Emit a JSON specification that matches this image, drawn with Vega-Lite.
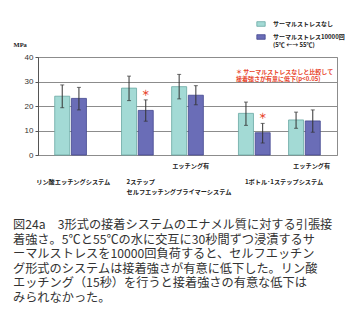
{
  "$schema": "https://vega.github.io/schema/vega-lite/v6.json",
  "width": 299,
  "height": 98,
  "autosize": {"type": "none"},
  "padding": {"left": 38, "top": 57, "right": 13, "bottom": 169},
  "background": "white",
  "config": {
    "view": {"stroke": "#8c8c8c", "strokeWidth": 1},
    "font": "Noto Sans CJK JP",
    "axisY": {
      "labelOverlap": false,
      "tickCount": 5,
      "titleAngle": 0,
      "titleAlign": "left",
      "titleBaseline": "middle",
      "titleX": -25,
      "titleY": -13,
      "titleFont": "Liberation Serif",
      "titleFontSize": 6.5,
      "titleFontWeight": "bold",
      "titleColor": "#222",
      "labelFont": "Liberation Sans",
      "labelFontSize": 8,
      "labelColor": "#333",
      "labelPadding": 2,
      "tickSize": 3,
      "tickColor": "#555",
      "domainColor": "#555",
      "gridColor": "#8c8c8c",
      "gridWidth": 1
    }
  },
  "title": {
    "text": [
      "図24a　3形式の接着システムのエナメル質に対する引張接",
      "　　着強さ。5℃と55℃の水に交互に30秒間ずつ浸漬するサ",
      "　　ーマルストレスを10000回負荷すると、セルフエッチン",
      "　　グ形式のシステムは接着強さが有意に低下した。リン酸",
      "　　エッチング（15秒）を行うと接着強さの有意な低下は",
      "　　みられなかった。"
    ],
    "orient": "bottom",
    "anchor": "start",
    "frame": "group",
    "offset": 24,
    "dx": -25,
    "font": "Noto Sans CJK JP",
    "fontSize": 12.2,
    "fontWeight": "normal",
    "color": "#333333",
    "lineHeight": 14.5,
    "baseline": "top"
  },
  "datasets": {
    "bars": [
      {"bar": "A0", "group": "リン酸エッチングシステム", "series": "サーマルストレスなし", "mean": 24.0, "lo": 19.3, "hi": 28.6, "sig": ""},
      {"bar": "A1", "group": "リン酸エッチングシステム", "series": "サーマルストレス10000回", "mean": 23.1, "lo": 18.4, "hi": 27.6, "sig": ""},
      {"bar": "B0", "group": "2ステップセルフエッチングプライマーシステム", "series": "サーマルストレスなし", "mean": 27.3, "lo": 22.2, "hi": 32.2, "sig": ""},
      {"bar": "B1", "group": "2ステップセルフエッチングプライマーシステム", "series": "サーマルストレス10000回", "mean": 18.2, "lo": 13.8, "hi": 22.5, "sig": "＊"},
      {"bar": "C0", "group": "2ステップセルフエッチングプライマーシステム エッチング有", "series": "サーマルストレスなし", "mean": 27.9, "lo": 22.9, "hi": 32.9, "sig": ""},
      {"bar": "C1", "group": "2ステップセルフエッチングプライマーシステム エッチング有", "series": "サーマルストレス10000回", "mean": 24.4, "lo": 20.5, "hi": 28.3, "sig": ""},
      {"bar": "D0", "group": "1ボトル･1ステップシステム", "series": "サーマルストレスなし", "mean": 17.0, "lo": 12.1, "hi": 21.6, "sig": ""},
      {"bar": "D1", "group": "1ボトル･1ステップシステム", "series": "サーマルストレス10000回", "mean": 9.1, "lo": 4.9, "hi": 12.9, "sig": "＊"},
      {"bar": "E0", "group": "1ボトル･1ステップシステム エッチング有", "series": "サーマルストレスなし", "mean": 14.3, "lo": 10.9, "hi": 17.5, "sig": ""},
      {"bar": "E1", "group": "1ボトル･1ステップシステム エッチング有", "series": "サーマルストレス10000回", "mean": 13.9, "lo": 9.3, "hi": 18.4, "sig": ""}
    ]
  },
  "data": {"name": "bars"},
  "encoding": {
    "x": {
      "field": "bar",
      "type": "nominal",
      "scale": {
        "domain": ["A0", "A1", "s1", "s2", "B0", "B1", "s3", "C0", "C1", "s4", "s5", "D0", "D1", "s6", "E0", "E1"],
        "paddingInner": 0.1,
        "paddingOuter": 1.08
      },
      "axis": null
    }
  },
  "layer": [
    {
      "mark": {"type": "bar", "strokeWidth": 0.8},
      "encoding": {
        "y": {
          "field": "mean",
          "type": "quantitative",
          "scale": {"domain": [0, 40], "nice": false},
          "axis": {"values": [0, 10, 20, 30, 40], "tickCount": 5, "title": "MPa"}
        },
        "color": {
          "field": "series",
          "type": "nominal",
          "scale": {
            "domain": ["サーマルストレスなし", "サーマルストレス10000回"],
            "range": ["#a3dad5", "#6a6db7"]
          },
          "legend": {
            "orient": "none",
            "legendX": 218,
            "legendY": -38,
            "title": null,
            "symbolType": "M-1,-0.55H1V0.55H-1Z",
            "symbolSize": 70,
            "symbolStrokeColor": "#4a4a4a",
            "symbolStrokeWidth": 0.8,
            "symbolOpacity": 1,
            "labelFont": "Noto Sans CJK JP",
            "labelFontSize": 6,
            "labelFontWeight": "bold",
            "labelColor": "#222",
            "labelOffset": 7,
            "rowPadding": 4,
            "labelExpr": "datum.label == 'サーマルストレス10000回' ? ['サーマルストレス10000回', '(5℃ ←→ 55℃)'] : datum.label"
          }
        },
        "stroke": {
          "field": "series",
          "type": "nominal",
          "scale": {
            "domain": ["サーマルストレスなし", "サーマルストレス10000回"],
            "range": ["#6aa8a3", "#44478f"]
          },
          "legend": null
        }
      }
    },
    {
      "mark": {"type": "rule", "color": "#333", "strokeWidth": 1},
      "encoding": {
        "y": {"field": "lo", "type": "quantitative", "axis": {"values": [0, 10, 20, 30, 40], "tickCount": 5, "title": "MPa"}},
        "y2": {"field": "hi"}
      }
    },
    {
      "mark": {"type": "tick", "orient": "horizontal", "size": 4, "thickness": 1, "color": "#333"},
      "encoding": {"y": {"field": "hi", "type": "quantitative", "axis": {"values": [0, 10, 20, 30, 40], "tickCount": 5, "title": "MPa"}}}
    },
    {
      "mark": {"type": "tick", "orient": "horizontal", "size": 4, "thickness": 1, "color": "#333"},
      "encoding": {"y": {"field": "lo", "type": "quantitative", "axis": {"values": [0, 10, 20, 30, 40], "tickCount": 5, "title": "MPa"}}}
    },
    {
      "mark": {"type": "text", "color": "#e8452c", "fontSize": 8, "fontWeight": "bold", "baseline": "middle", "dy": -6},
      "encoding": {
        "y": {"field": "hi", "type": "quantitative", "axis": {"values": [0, 10, 20, 30, 40], "tickCount": 5, "title": "MPa"}},
        "text": {"field": "sig"}
      }
    },
    {
      "data": {"values": [{"note": ["＊ サーマルストレスなしと比較して", "　接着強さが有意に低下(p<0.05)"]}]},
      "mark": {"type": "text", "color": "#e8452c", "fontSize": 6, "fontWeight": "bold", "align": "left", "baseline": "middle", "lineHeight": 7, "dx": -10},
      "encoding": {
        "x": {"datum": "D0"},
        "y": {"datum": 33.7, "axis": {"values": [0, 10, 20, 30, 40], "tickCount": 5, "title": "MPa"}},
        "text": {"field": "note"}
      }
    },
    {
      "data": {"values": [{"label": "リン酸エッチングシステム"}]},
      "mark": {"type": "text", "fontSize": 6.2, "fontWeight": "bold", "color": "#222", "align": "left", "baseline": "middle", "dx": -26, "dy": 27},
      "encoding": {"x": {"datum": "A0"}, "y": {"datum": 0, "axis": {"values": [0, 10, 20, 30, 40], "tickCount": 5, "title": "MPa"}}, "text": {"field": "label"}}
    },
    {
      "data": {"values": [{"label": ["2ステップ", "セルフエッチングプライマーシステム"]}]},
      "mark": {"type": "text", "fontSize": 6.2, "fontWeight": "bold", "color": "#222", "align": "left", "baseline": "top", "lineHeight": 10, "dx": -2.5, "dy": 24},
      "encoding": {"x": {"datum": "B0"}, "y": {"datum": 0, "axis": {"values": [0, 10, 20, 30, 40], "tickCount": 5, "title": "MPa"}}, "text": {"field": "label"}}
    },
    {
      "data": {"values": [{"label": "エッチング有"}]},
      "mark": {"type": "text", "fontSize": 6.2, "fontWeight": "bold", "color": "#222", "align": "left", "baseline": "middle", "dx": -7, "dy": 11},
      "encoding": {"x": {"datum": "C0"}, "y": {"datum": 0, "axis": {"values": [0, 10, 20, 30, 40], "tickCount": 5, "title": "MPa"}}, "text": {"field": "label"}}
    },
    {
      "data": {"values": [{"label": "1ボトル･1ステップシステム"}]},
      "mark": {"type": "text", "fontSize": 6.2, "fontWeight": "bold", "color": "#222", "align": "left", "baseline": "middle", "dx": -1, "dy": 27},
      "encoding": {"x": {"datum": "D0"}, "y": {"datum": 0, "axis": {"values": [0, 10, 20, 30, 40], "tickCount": 5, "title": "MPa"}}, "text": {"field": "label"}}
    },
    {
      "data": {"values": [{"label": "エッチング有"}]},
      "mark": {"type": "text", "fontSize": 6.2, "fontWeight": "bold", "color": "#222", "align": "left", "baseline": "middle", "dx": -3, "dy": 11},
      "encoding": {"x": {"datum": "E0"}, "y": {"datum": 0, "axis": {"values": [0, 10, 20, 30, 40], "tickCount": 5, "title": "MPa"}}, "text": {"field": "label"}}
    }
  ]
}
